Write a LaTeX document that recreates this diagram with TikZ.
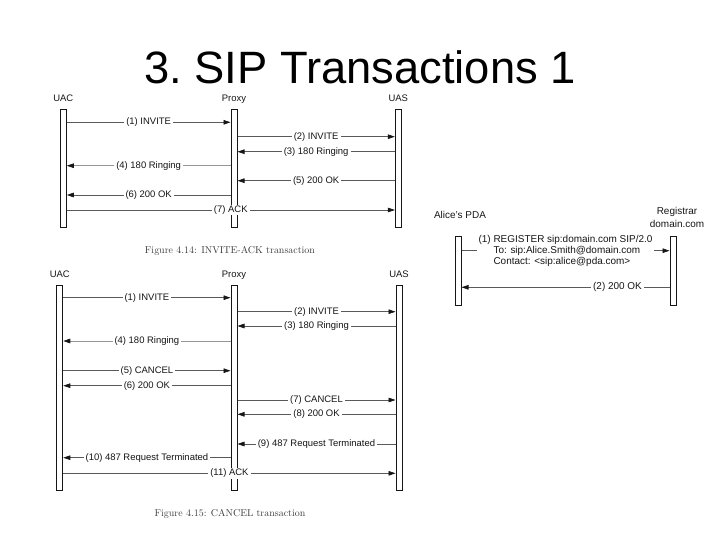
\documentclass[tikz,border=0pt]{standalone}
\usepackage{fontspec}
\setsansfont{Liberation Sans}
\usepackage{tikz}
\usetikzlibrary{arrows.meta, positioning}
\definecolor{seqInk}{RGB}{22,22,22}
\definecolor{seqLine}{RGB}{90,90,90}
\definecolor{seqFaint}{RGB}{150,150,150}
\definecolor{seqCap}{RGB}{60,60,60}
\tikzset{
  % white lifeline bar; the height is given where the bar is placed
  lifebar/.style={
    draw=seqInk, fill=white, line width=1pt,
    minimum width=6bp, inner sep=0pt
  },
  % name of a party
  actor/.style={
    font=\sffamily\fontsize{9.5}{12.5}\selectfont, text=seqInk,
    inner sep=0pt, align=center
  },
  % one-line name over a bar, same box for all of them
  onbar/.style={actor, text height=7bp, text depth=2bp},
  % messages
  msg/.style={-{Triangle[length=7bp,width=4.6bp,color=seqInk]},
              draw=seqLine, line width=0.65pt},
  msgfaint/.style={msg, draw=seqFaint},
  mlabel/.style={font=\sffamily\fontsize{9.5}{11.2}\selectfont, text=seqInk,
                 fill=white, inner xsep=2bp, inner ysep=1bp},
  rlabel/.style={mlabel, font=\sffamily\fontsize{10}{11.2}\selectfont},
  % figure captions of the scanned book
  figcap/.style={font=\rmfamily\fontsize{10}{12}\selectfont, text=seqCap},
  title/.style={font=\sffamily\fontsize{45.5}{50}\selectfont, text=black,
                inner sep=0pt},
}
\begin{document}
\begin{tikzpicture}[x=1bp, y=-1bp]
\useasboundingbox (0,0) rectangle (720,540);

\node[title, anchor=base] (ttl) at (360,84) {\frenchspacing 3. SIP Transactions 1};

% ======================= INVITE-ACK transaction ============================
\node[lifebar, minimum height=117bp] (iuac)  at (63.3,168.5) {};
\node[lifebar, minimum height=117bp] (iprox) at (234,168.5)  {};
\node[lifebar, minimum height=117bp] (iuas)  at (398.3,168.5) {};

\node[onbar, above=6bp of iuac]  (iuacl)  {UAC};
\node[onbar, above=6bp of iprox] (iproxl) {Proxy};
\node[onbar, above=6bp of iuas]  (iuasl)  {UAS};

\draw[msg] (iuac.east |- 0,122.3) -- node[mlabel] (i1) {(1) INVITE} (iprox.west |- 0,122.3);
\draw[msg] (iprox.east |- 0,136.7) -- node[mlabel] (i2) {(2) INVITE} (iuas.west |- 0,136.7);
\draw[msg] (iuas.west |- 0,151.7) -- node[mlabel] (i3) {(3) 180 Ringing} (iprox.east |- 0,151.7);
\draw[msgfaint] (iprox.west |- 0,165.7) -- node[mlabel] (i4) {(4) 180 Ringing} (iuac.east |- 0,165.7);
\draw[msg] (iuas.west |- 0,180.7) -- node[mlabel] (i5) {(5) 200 OK} (iprox.east |- 0,180.7);
\draw[msg] (iprox.west |- 0,195) -- node[mlabel] (i6) {(6) 200 OK} (iuac.east |- 0,195);
\draw[msg] (iuac.east |- 0,210) -- node[mlabel] (i7) {(7) ACK} (iuas.west |- 0,210);

\node[figcap] (icap) at (230,250.7) {Figure 4.14: INVITE-ACK transaction};

% ========================= CANCEL transaction ==============================
\node[lifebar, minimum height=204.3bp] (cuac)  at (59.8,387.9) {};
\node[lifebar, minimum height=204.3bp] (cprox) at (234,387.9)  {};
\node[lifebar, minimum height=204.3bp] (cuas)  at (399,387.9)  {};

\node[onbar, above=6bp of cuac]  (cuacl)  {UAC};
\node[onbar, above=6bp of cprox] (cproxl) {Proxy};
\node[onbar, above=6bp of cuas]  (cuasl)  {UAS};

\draw[msg] (cuac.east |- 0,297.7) -- node[mlabel] (c1) {(1) INVITE} (cprox.west |- 0,297.7);
\draw[msg] (cprox.east |- 0,311.7) -- node[mlabel] (c2) {(2) INVITE} (cuas.west |- 0,311.7);
\draw[msg] (cuas.west |- 0,326) -- node[mlabel] (c3) {(3) 180 Ringing} (cprox.east |- 0,326);
\draw[msgfaint] (cprox.west |- 0,341) -- node[mlabel] (c4) {(4) 180 Ringing} (cuac.east |- 0,341);
\draw[msg] (cuac.east |- 0,370.7) -- node[mlabel] (c5) {(5) CANCEL} (cprox.west |- 0,370.7);
\draw[msg] (cprox.west |- 0,385.7) -- node[mlabel] (c6) {(6) 200 OK} (cuac.east |- 0,385.7);
\draw[msg] (cprox.east |- 0,400) -- node[mlabel] (c7) {(7) CANCEL} (cuas.west |- 0,400);
\draw[msg] (cuas.west |- 0,414.3) -- node[mlabel] (c8) {(8) 200 OK} (cprox.east |- 0,414.3);
\draw[msg] (cuas.west |- 0,444) -- node[mlabel] (c9) {(9) 487 Request Terminated} (cprox.east |- 0,444);
\draw[msg] (cprox.west |- 0,457.7) -- node[mlabel] (c10) {(10) 487 Request Terminated} (cuac.east |- 0,457.7);
\draw[msg] (cuac.east |- 0,473.3) -- node[mlabel] (c11) {(11) ACK} (cuas.west |- 0,473.3);

\node[figcap] (ccap) at (230,514) {Figure 4.15: CANCEL transaction};

% ============================ REGISTER =====================================
\node[lifebar, minimum height=68.3bp] (rpda) at (458,270.9) {};
\node[lifebar, minimum height=68.3bp] (rreg) at (673,270.9) {};

\node[actor, font=\sffamily\fontsize{10}{12.5}\selectfont] (rpdal) at (460,215) {Alice's PDA};
\node[actor, font=\sffamily\fontsize{10}{12.5}\selectfont] (rregl) at (677,217.5)
      {Registrar\\domain.com};

\draw[msg] (rpda.east |- 0,250.7) -- node[rlabel, align=left] (r1)
      {(1) REGISTER sip:domain.com SIP/2.0\\
       \phantom{(1) }To: sip:Alice.Smith@domain.com\\
       \phantom{(1) }Contact: <sip:alice@pda.com>} (rreg.west |- 0,250.7);
\draw[msg] (rreg.west |- 0,287.3) -- node[rlabel, pos=0.25] (r2) {(2) 200 OK}
      (rpda.east |- 0,287.3);

\end{tikzpicture}
\end{document}
